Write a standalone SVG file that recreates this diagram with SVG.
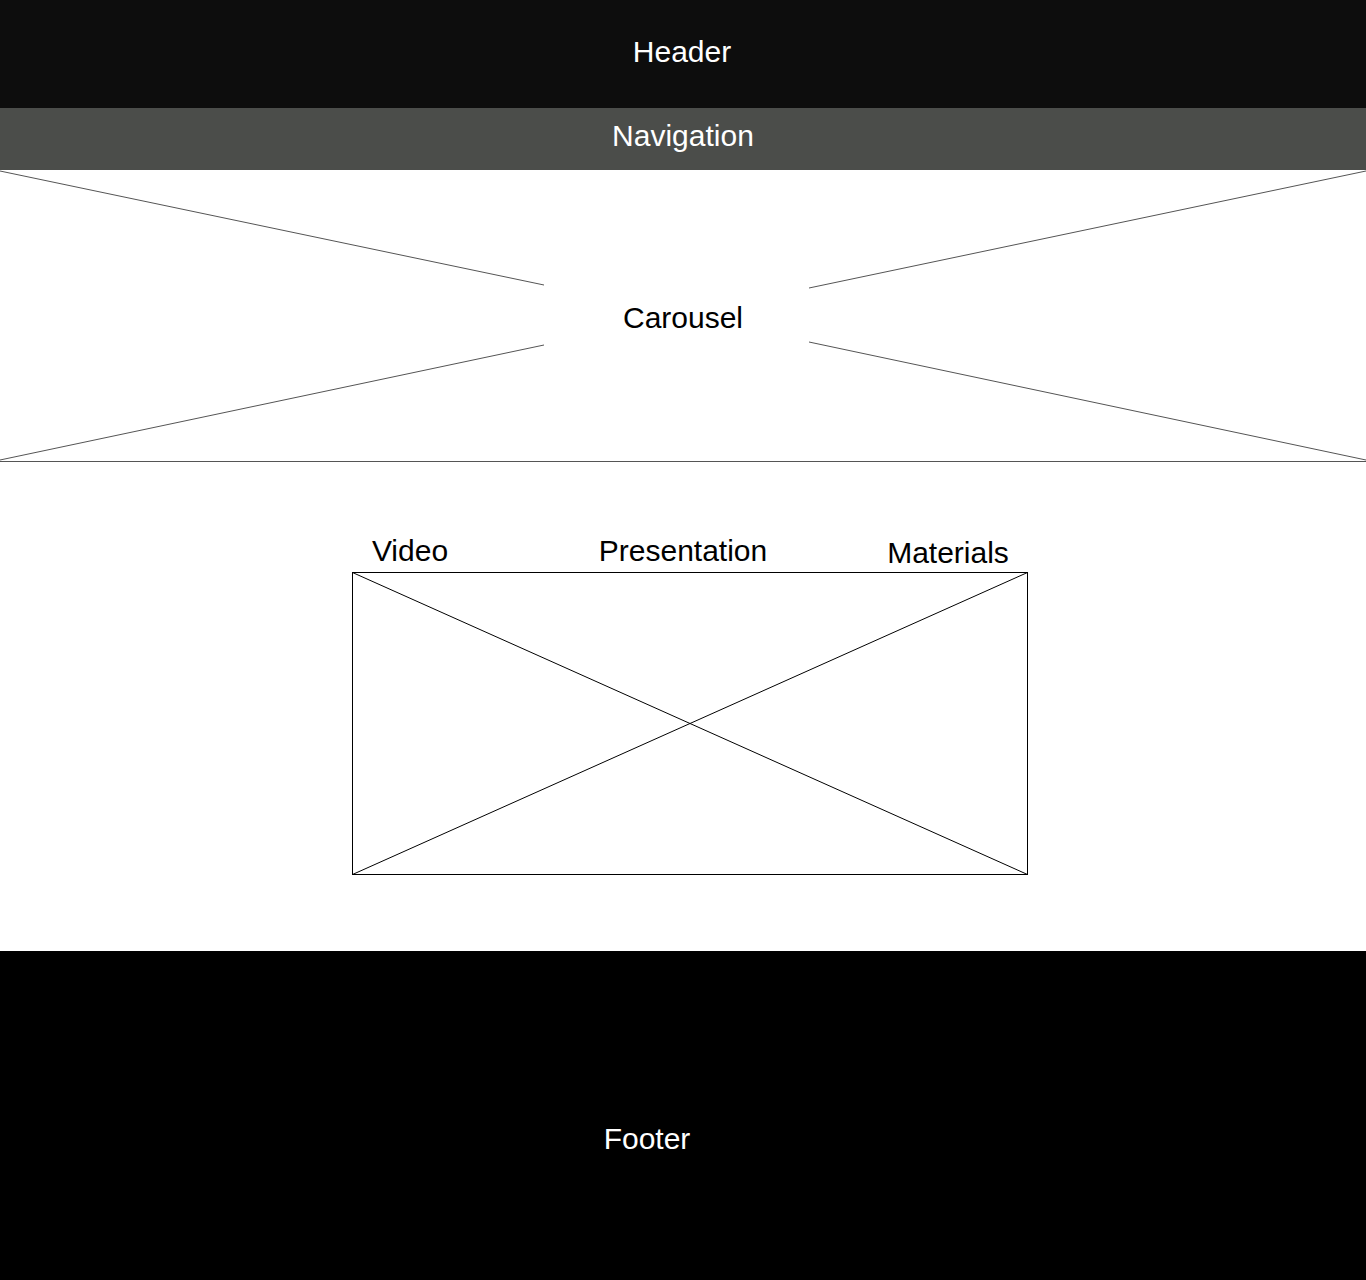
<svg xmlns="http://www.w3.org/2000/svg" width="1366" height="1280" viewBox="0 0 1366 1280">
<style>
.t{font-family:"Liberation Sans",Arial,sans-serif;font-size:30px;text-anchor:middle}
.w{fill:#ffffff}
.k{fill:#000000}
.gl{stroke:#555555;stroke-width:1;fill:none}
.bl{stroke:#000000;stroke-width:1;fill:none}
</style>
<rect x="0" y="0" width="1366" height="1280" fill="#ffffff"/>
<g id="header">
<rect x="0" y="0" width="1366" height="108" fill="#0d0d0d"/>
<text class="t w" x="682" y="62">Header</text>
</g>
<g id="navigation">
<rect x="0" y="108" width="1366" height="62" fill="#4b4d4a"/>
<text class="t w" x="683" y="146">Navigation</text>
</g>
<g id="carousel">
<line class="gl" x1="0" y1="171" x2="544" y2="285"/>
<line class="gl" x1="0" y1="460" x2="544" y2="345"/>
<line class="gl" x1="1366" y1="171" x2="809" y2="288"/>
<line class="gl" x1="1366" y1="460" x2="809" y2="342"/>
<line class="gl" x1="0" y1="461.5" x2="1366" y2="461.5"/>
<text class="t k" x="683" y="328">Carousel</text>
</g>
<g id="content">
<text class="t k" x="410" y="561">Video</text>
<text class="t k" x="683" y="561">Presentation</text>
<text class="t k" x="948" y="563">Materials</text>
<rect class="bl" x="352.5" y="572.5" width="675" height="302"/>
<line class="bl" x1="352.5" y1="572.5" x2="1027.5" y2="874.5"/>
<line class="bl" x1="352.5" y1="874.5" x2="1027.5" y2="572.5"/>
</g>
<g id="footer">
<rect x="0" y="951" width="1366" height="329" fill="#000000"/>
<text class="t w" x="647" y="1149">Footer</text>
</g>
</svg>
